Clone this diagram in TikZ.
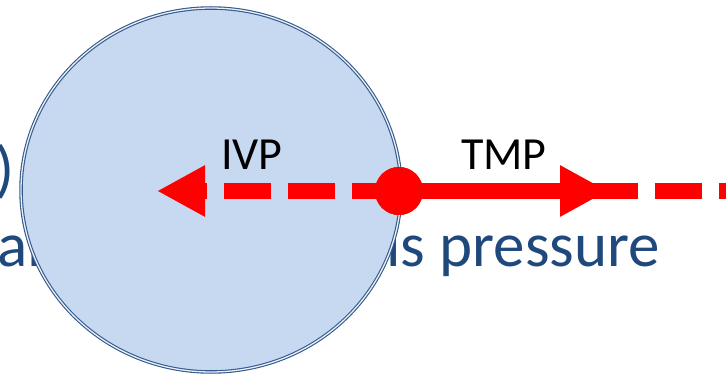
\documentclass[tikz,border=0pt]{standalone}
\usepackage{fontspec}
\setmainfont{Carlito}
\usetikzlibrary{arrows.meta, shapes.geometric}
\definecolor{cellfill}{HTML}{C6D9F1}
\definecolor{cellline}{HTML}{35598A}
\definecolor{textblue}{HTML}{1F497D}
\definecolor{flowred}{HTML}{FF0000}

\begin{document}
\begin{tikzpicture}[x=1pt, y=-1pt,
  bigtxt/.style={font=\fontsize{63}{74}\selectfont, text=textblue, inner sep=0pt, anchor=base west},
  lbl/.style={font=\fontsize{46}{52}\selectfont, text=black, inner sep=0pt, anchor=base west},
  cell/.style={ellipse, fill=cellfill, draw=cellline, line width=1.1pt, double=cellfill!40!white, double distance=1.3pt, minimum width=380pt, minimum height=364pt, inner sep=0pt},
  pdot/.style={circle, fill=flowred, minimum size=48pt, inner sep=0pt},
  dashline/.style={draw=flowred, line width=16pt, dash pattern=on 47pt off 17pt},
  solidarr/.style={draw=flowred, line width=16pt, -{Triangle[length=48pt, width=48pt]}},
]
\useasboundingbox (0,0) rectangle (726,374);
\clip (0,0) rectangle (726,374);

% --- text behind the cell ---
\node[bigtxt] (paren) at (-5,191) {)};
\node[bigtxt] (lefttxt) at (-3,267) {al};
\node[bigtxt] (righttxt) at (386,267) {ls pressure};

% --- cell ---
\node[cell] (cell) at (211,190) {};

% --- pressures ---
\node[pdot] (dot) at (399,191) {};
\coordinate (ivpend) at (157,191);
\coordinate (tmpend) at (608,191);
\coordinate (rightend) at (740,191);

\draw[dashline, -{Triangle[length=48pt, width=48pt]}] (dot.center) -- (ivpend);
\draw[dashline] (dot.center) -- (rightend);
\draw[solidarr] (dot.center) -- (tmpend);
\node[pdot] at (dot) {};

% --- labels ---
\node[lbl] (ivp) at (221,170) {IVP};
\node[lbl] (tmp) at (461,170) {TMP};
\end{tikzpicture}
\end{document}
